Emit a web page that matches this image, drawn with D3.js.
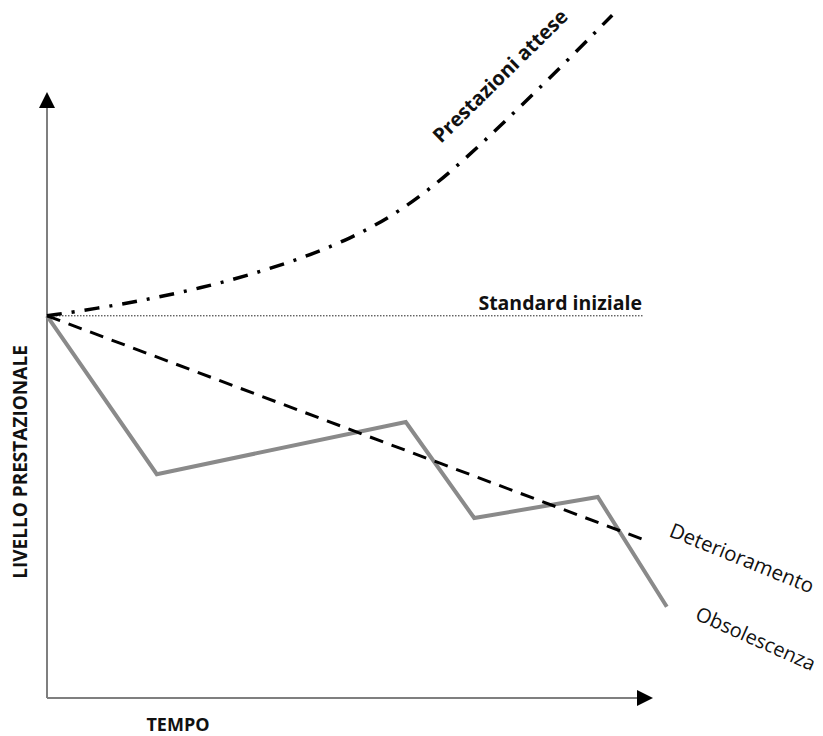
<!DOCTYPE html>
<html><head><meta charset="utf-8">
<script src="https://cdn.jsdelivr.net/npm/d3@7"></script>
<style>body{margin:0;background:#fff}svg{display:block}text{font-family:"Open Sans",Lato,sans-serif;fill:#111}</style>
</head><body><svg id="c" width="823" height="736"></svg>
<script>
// Data (abstract units: time 0..100, level 0..100)
const standardLevel = 63.7;
const standardEnd = 99.5;
const obsolescenza = [[0,63.7],[18.3,37.3],[59.8,46],[71.2,30],[91.8,33.5],[103.3,15.2]];
const deterioramento = [[0,63.7],[99.7,26.3]];
const prestazioni = [[0,63.7],[8.8,65],[17.2,66.5],[25.5,68.3],[33.8,70.5],[42.2,73.2],[50.5,76.5],[58.8,81],[67.2,87.5],[75.5,95.3],[83.8,103.3],[94.2,113.8]];
const axisLabels = {x:"TEMPO", y:"LIVELLO PRESTAZIONALE"};
const seriesLabels = ["Prestazioni attese","Standard iniziale","Deterioramento","Obsolescenza"];

const svg = d3.select("#c");
const x = d3.scaleLinear().domain([0,100]).range([47,647]);
const y = d3.scaleLinear().domain([0,100]).range([698,98]);

// axes
svg.append("line").attr("x1",x(0)).attr("y1",y(0)).attr("x2",x(0)).attr("y2",y(0)-592)
  .attr("stroke","#7f7f7f").attr("stroke-width",2);
svg.append("path").attr("d",`M${x(0)-8},${y(0)-590}L${x(0)},${y(0)-606}L${x(0)+8},${y(0)-590}Z`).attr("fill","#000");
svg.append("line").attr("x1",x(0)).attr("y1",y(0)).attr("x2",x(0)+592).attr("y2",y(0))
  .attr("stroke","#7f7f7f").attr("stroke-width",2);
svg.append("path").attr("d",`M${x(0)+590},${y(0)-8}L${x(0)+606},${y(0)}L${x(0)+590},${y(0)+8}Z`).attr("fill","#000");

const line = d3.line().x(d=>x(d[0])).y(d=>y(d[1]));

// standard line
svg.append("path").attr("d", line([[0,standardLevel],[standardEnd,standardLevel]]))
  .attr("fill","none").attr("stroke","#222").attr("stroke-width",1).attr("stroke-dasharray","1.5,1.5");

// obsolescenza
svg.append("path").attr("d", line(obsolescenza)).attr("fill","none")
  .attr("stroke","#8a8a8a").attr("stroke-width",4).attr("stroke-linejoin","miter");

// deterioramento
svg.append("path").attr("d", line(deterioramento)).attr("fill","none")
  .attr("stroke","#000").attr("stroke-width",3).attr("stroke-dasharray","14,9");

// prestazioni attese
svg.append("path").attr("d", d3.line().x(d=>x(d[0])).y(d=>y(d[1])).curve(d3.curveBasis)(prestazioni)).attr("fill","none")
  .attr("stroke","#000").attr("stroke-width",3.5).attr("stroke-dasharray","15,10,3,10");

// labels
svg.append("text").attr("transform","translate(441,144) rotate(-44.5)")
  .attr("font-size",20).attr("font-weight","bold").text(seriesLabels[0]);
svg.append("text").attr("x",642).attr("y",310).attr("text-anchor","end")
  .attr("font-size",19.5).attr("font-weight","bold").text(seriesLabels[1]);
svg.append("text").attr("transform","translate(668,536) rotate(22)")
  .attr("font-size",20.5).text(seriesLabels[2]);
svg.append("text").attr("transform","translate(694,619) rotate(24)")
  .attr("font-size",20).text(seriesLabels[3]);
svg.append("text").attr("transform","translate(27,462) rotate(-90)").attr("text-anchor","middle")
  .attr("font-size",19).attr("font-weight","bold").text(axisLabels.y);
svg.append("text").attr("x",178).attr("y",731).attr("text-anchor","middle")
  .attr("font-size",18).attr("font-weight","bold").text(axisLabels.x);
</script></body></html>
